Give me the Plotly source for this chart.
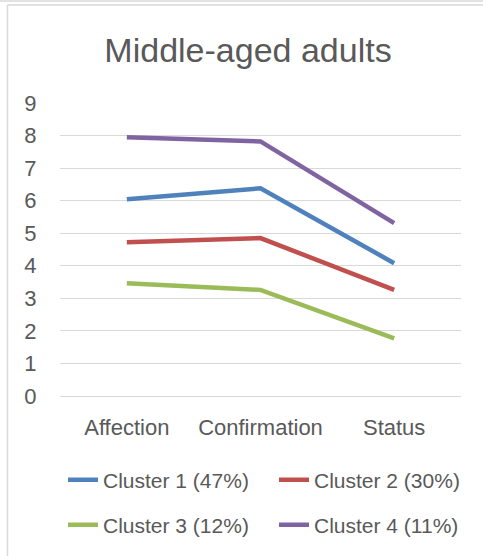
import plotly.graph_objects as go

categories = ["Affection", "Confirmation", "Status"]
series_names = ["Cluster 1 (47%)", "Cluster 2 (30%)", "Cluster 3 (12%)", "Cluster 4 (11%)"]
cluster1 = [6.04, 6.38, 4.08]
cluster2 = [4.72, 4.85, 3.26]
cluster3 = [3.46, 3.26, 1.77]
cluster4 = [7.95, 7.82, 5.31]
colors = ["#4F81BD", "#C0504D", "#9BBB59", "#8064A2"]
y_ticks = list(range(0, 10))

W, H = 483, 556
L, R, T, B = 60, 22, 103, 160
pw, ph = W - L - R, H - T - B

def px_x(x):
    return (x - L) / pw

def px_y(y):
    return (H - B - y) / ph

fig = go.Figure()
values = [cluster1, cluster2, cluster3, cluster4]
legend_ids = ["legend", "legend2", "legend3", "legend4"]
for name, vals, col, lg in zip(series_names, values, colors, legend_ids):
    fig.add_trace(go.Scatter(
        x=categories, y=vals, mode="lines", name=name,
        line=dict(color=col, width=4.5), legend=lg,
    ))

font_fam = "Liberation Sans, Arial, sans-serif"
txt_col = "#595959"
grid_col = "#D9D9D9"

def leg(xpx, ypx):
    return dict(orientation="h", xref="container", yref="container",
                x=xpx / W, y=1 - ypx / H, xanchor="left", yanchor="middle",
                font=dict(size=21, color=txt_col), bgcolor="rgba(0,0,0,0)")

fig.update_layout(
    width=W, height=H,
    margin=dict(l=L, r=R, t=T, b=B, autoexpand=False),
    paper_bgcolor="white", plot_bgcolor="white",
    font=dict(family=font_fam, color=txt_col, size=22),
    title=dict(text="Middle-aged adults", x=248 / W, xanchor="center",
               y=1 - 50 / H, yanchor="middle",
               font=dict(size=34, color=txt_col, family=font_fam)),
    xaxis=dict(showgrid=False, zeroline=False, showline=False,
               ticks="outside", ticklen=12, tickcolor="rgba(0,0,0,0)",
               tickfont=dict(size=22, color=txt_col), range=[-0.5, 2.5]),
    yaxis=dict(range=[0, 9], tickvals=y_ticks, showgrid=True, gridcolor=grid_col,
               gridwidth=1.3, zeroline=True, zerolinecolor=grid_col, zerolinewidth=1.3,
               showline=False,
               ticks="outside", ticklen=18, tickcolor="rgba(0,0,0,0)",
               tickfont=dict(size=22, color=txt_col)),
    legend=leg(63, 480),
    legend2=leg(274, 480),
    legend3=leg(63, 525),
    legend4=leg(274, 525),
    showlegend=True,
)

border = dict(color=grid_col, width=1.5)
fig.add_shape(type="line", xref="paper", yref="paper",
              x0=px_x(0), x1=px_x(W), y0=px_y(1), y1=px_y(1), line=border)
fig.add_shape(type="line", xref="paper", yref="paper",
              x0=px_x(7.5), x1=px_x(W), y0=px_y(5), y1=px_y(5), line=border)
fig.add_shape(type="line", xref="paper", yref="paper",
              x0=px_x(7.5), x1=px_x(7.5), y0=px_y(5), y1=px_y(H), line=border)

fig.write_html("out.html")
